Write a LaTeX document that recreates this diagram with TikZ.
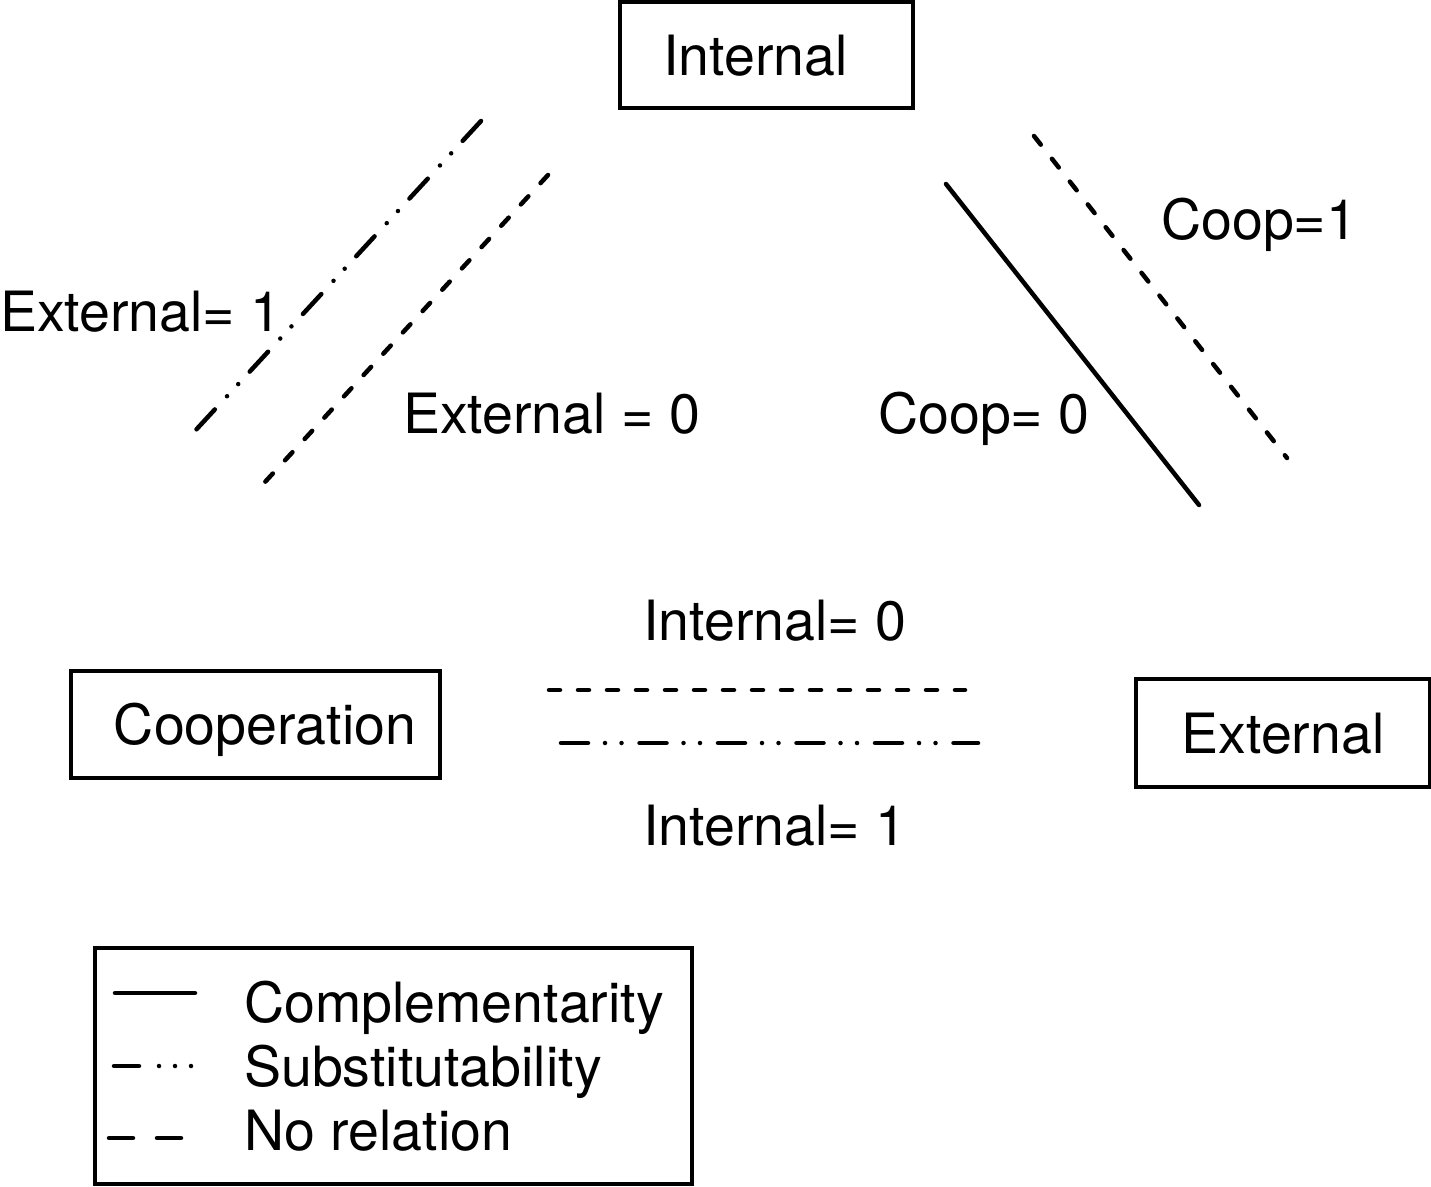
\documentclass[tikz,border=0pt]{standalone}
\usepackage{fontspec}
\setmainfont{TeX Gyre Heros}
\begin{document}
\begin{tikzpicture}[x=1pt,y=-1pt,
  every node/.style={font=\fontsize{55.5}{62}\selectfont, inner sep=0pt},
  box/.style={draw, line width=4pt, text height=40pt, text depth=0pt},
  lbl/.style={anchor=base west},
  ln/.style={line width=4.5pt, line cap=round},
  solidln/.style={ln},
  dashln/.style={ln, dash pattern=on 11pt off 18pt},
  subln/.style={ln, dash pattern=on 27pt off 17pt on 0pt off 16.5pt on 0pt off 18pt}]
\useasboundingbox (0,0) rectangle (1431,1186);
\fill[white] (0,0) rectangle (1431,1186);
% boxes
\node[box, minimum width=293pt, minimum height=106pt] (internal) at (766.5,55) {\hspace*{-22pt}Internal};
\node[box, minimum width=369pt, minimum height=107pt] (coop) at (255.5,724.5) {\hspace*{19pt}Cooperation};
\node[box, minimum width=294pt, minimum height=108pt] (external) at (1283,733) {External};
% line ends
\coordinate (s1a) at (481,121); \coordinate (s1b) at (194,432);
\coordinate (d1a) at (548,175); \coordinate (d1b) at (265,482);
\coordinate (c1a) at (946,184); \coordinate (c1b) at (1199,505);
\coordinate (d2a) at (1034,136); \coordinate (d2b) at (1287,458);
\coordinate (d3a) at (549,690); \coordinate (d3b) at (965,690);
\coordinate (s2a) at (561,743); \coordinate (s2b) at (978,743);
\draw[subln] (s1a) -- (s1b);
\draw[dashln] (d1a) -- (d1b);
\draw[solidln] (c1a) -- (c1b);
\draw[dashln] (d2a) -- (d2b);
\draw[dashln] (d3a) -- (d3b);
\draw[subln] (s2a) -- (s2b);
% labels
\node[lbl] (ext1) at (0,331) {External= 1};
\node[lbl] (ext0) at (403,433) {External = 0};
\node[lbl] (coop0) at (878,433) {Coop= 0};
\node[lbl] (coop1) at (1161,239) {Coop=1};
\node[lbl] (int0) at (643,640) {Internal= 0};
\node[lbl] (int1) at (643,845) {Internal= 1};
% legend
\node[draw, line width=4pt, minimum width=597pt, minimum height=236pt] (legend) at (393.5,1066) {};
\coordinate (l1a) at (115,993); \coordinate (l1b) at (195,993);
\coordinate (l2a) at (114,1066); \coordinate (l2b) at (191,1066);
\coordinate (l3a) at (109,1138); \coordinate (l3b) at (181,1138);
\draw[solidln] (l1a) -- (l1b);
\draw[ln, dash pattern=on 25pt off 20pt on 0pt off 16pt on 0pt off 16pt on 0pt off 50pt] (l2a) -- (l2b);
\draw[ln, dash pattern=on 24pt off 24pt on 24pt off 50pt] (l3a) -- (l3b);
\node[lbl] (lg1) at (244,1022) {Complementarity};
\node[lbl] (lg2) at (244,1086) {Substitutability};
\node[lbl] (lg3) at (244,1150) {No relation};
\end{tikzpicture}
\end{document}
